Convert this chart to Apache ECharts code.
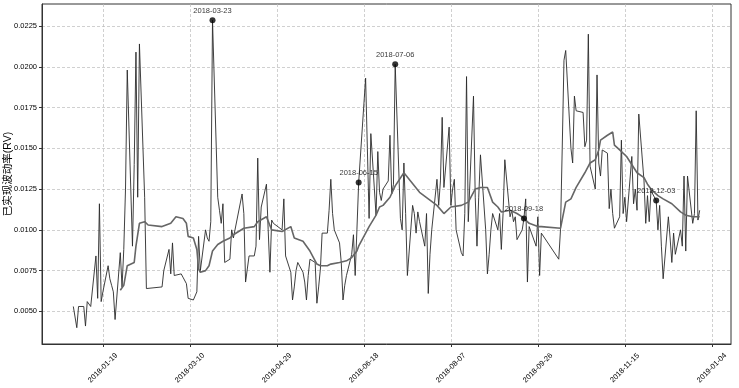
<!DOCTYPE html>
<html><head><meta charset="utf-8">
<script src="https://cdn.jsdelivr.net/npm/echarts@6/dist/echarts.min.js"></script>
<style>html,body{margin:0;padding:0;background:#fff}#c{width:739px;height:388px}</style>
</head><body><div id="c"></div>
<script>
const dates = [
'2018-01-02','2018-01-03','2018-01-04','2018-01-05','2018-01-08','2018-01-09','2018-01-10','2018-01-11','2018-01-12','2018-01-15','2018-01-16','2018-01-17','2018-01-18','2018-01-19','2018-01-22','2018-01-23','2018-01-24','2018-01-25','2018-01-26','2018-01-29','2018-01-30','2018-01-31',
'2018-02-01','2018-02-02','2018-02-05','2018-02-06','2018-02-07','2018-02-08','2018-02-09','2018-02-12','2018-02-13','2018-02-14','2018-02-22','2018-02-23','2018-02-26','2018-02-27','2018-02-28',
'2018-03-01','2018-03-02','2018-03-05','2018-03-06','2018-03-07','2018-03-08','2018-03-09','2018-03-12','2018-03-13','2018-03-14','2018-03-15','2018-03-16','2018-03-19','2018-03-20','2018-03-21','2018-03-22','2018-03-23','2018-03-26','2018-03-27','2018-03-28','2018-03-29','2018-03-30',
'2018-04-02','2018-04-03','2018-04-04','2018-04-09','2018-04-10','2018-04-11','2018-04-12','2018-04-13','2018-04-16','2018-04-17','2018-04-18','2018-04-19','2018-04-20','2018-04-23','2018-04-24','2018-04-25','2018-04-26','2018-04-27',
'2018-05-02','2018-05-03','2018-05-04','2018-05-07','2018-05-08','2018-05-09','2018-05-10','2018-05-11','2018-05-14','2018-05-15','2018-05-16','2018-05-17','2018-05-18','2018-05-21','2018-05-22','2018-05-23','2018-05-24','2018-05-25','2018-05-28','2018-05-29','2018-05-30','2018-05-31',
'2018-06-01','2018-06-04','2018-06-05','2018-06-06','2018-06-07','2018-06-08','2018-06-11','2018-06-12','2018-06-13','2018-06-14','2018-06-15','2018-06-19','2018-06-20','2018-06-21','2018-06-22','2018-06-25','2018-06-26','2018-06-27','2018-06-28','2018-06-29',
'2018-07-02','2018-07-03','2018-07-04','2018-07-05','2018-07-06','2018-07-09','2018-07-10','2018-07-11','2018-07-12','2018-07-13','2018-07-16','2018-07-17','2018-07-18','2018-07-19','2018-07-20','2018-07-23','2018-07-24','2018-07-25','2018-07-26','2018-07-27','2018-07-30','2018-07-31',
'2018-08-01','2018-08-02','2018-08-03','2018-08-06','2018-08-07','2018-08-08','2018-08-09','2018-08-10','2018-08-13','2018-08-14','2018-08-15','2018-08-16','2018-08-17','2018-08-20','2018-08-21','2018-08-22','2018-08-23','2018-08-24','2018-08-27','2018-08-28','2018-08-29','2018-08-30','2018-08-31',
'2018-09-03','2018-09-04','2018-09-05','2018-09-06','2018-09-07','2018-09-10','2018-09-11','2018-09-12','2018-09-13','2018-09-14','2018-09-17','2018-09-18','2018-09-19','2018-09-20','2018-09-21','2018-09-25','2018-09-26','2018-09-27','2018-09-28',
'2018-10-08','2018-10-09','2018-10-10','2018-10-11','2018-10-12','2018-10-15','2018-10-16','2018-10-17','2018-10-18','2018-10-19','2018-10-22','2018-10-23','2018-10-24','2018-10-25','2018-10-26','2018-10-29','2018-10-30','2018-10-31',
'2018-11-01','2018-11-02','2018-11-05','2018-11-06','2018-11-07','2018-11-08','2018-11-09','2018-11-12','2018-11-13','2018-11-14','2018-11-15','2018-11-16','2018-11-19','2018-11-20','2018-11-21','2018-11-22','2018-11-23','2018-11-26','2018-11-27','2018-11-28','2018-11-29','2018-11-30',
'2018-12-03','2018-12-04','2018-12-05','2018-12-06','2018-12-07','2018-12-10','2018-12-11','2018-12-12','2018-12-13','2018-12-14','2018-12-17','2018-12-18','2018-12-19','2018-12-20','2018-12-21','2018-12-24','2018-12-25','2018-12-26','2018-12-27','2018-12-28'
];
const rv = [
0.0053,0.0054,0.0040,0.0053,0.0053,0.0041,0.0056,0.0056,0.0053,0.0084,0.0058,0.0116,0.0056,0.0062,0.0078,0.0070,0.0066,0.0062,0.0045,0.0086,0.0065,0.0088,
0.0125,0.0198,0.0090,0.0140,0.0209,0.0120,0.0214,0.0120,0.0064,0.0064,0.0065,0.0075,0.0088,0.0073,0.0092,
0.0072,0.0072,0.0073,0.0071,0.0072,0.0067,0.0058,0.0057,0.0056,0.0062,0.0096,0.0075,0.0100,0.0095,0.0093,0.0105,0.02285,0.0120,0.0112,0.0104,0.0116,0.0080,
0.0082,0.0100,0.0095,0.0122,0.0110,0.0068,0.0076,0.0084,0.0084,0.0090,0.0144,0.0094,0.0114,0.0128,0.0100,0.0074,0.0106,0.0104,
0.0100,0.0119,0.0084,0.0074,0.0057,0.0065,0.0075,0.0080,0.0074,0.0068,0.0057,0.0072,0.0082,0.0080,0.0055,0.0065,0.0076,0.0098,0.0098,0.0112,0.0131,0.0110,
0.0100,0.0092,0.0080,0.0057,0.0066,0.0072,0.0085,0.0097,0.0072,0.0100,0.0129,0.0193,0.0150,0.0107,0.0159,0.0109,0.0148,0.0123,0.0118,0.0125,
0.0130,0.0158,0.0122,0.0128,0.02015,0.0107,0.0100,0.0141,0.0110,0.0072,0.0115,0.0110,0.0098,0.0111,0.0105,0.0090,0.0110,0.0061,0.0085,0.0100,0.0131,0.0115,
0.0130,0.0169,0.0126,0.0163,0.0115,0.0125,0.0131,0.0100,0.0086,0.0084,0.0110,0.0194,0.0105,0.0182,0.0120,0.0090,0.0120,0.0146,0.0100,0.0073,0.0085,0.0100,0.0110,
0.0100,0.0110,0.0088,0.0110,0.0143,0.0108,0.0112,0.0105,0.0108,0.0094,0.0100,0.0107,0.0119,0.0068,0.0102,0.0090,0.0108,0.0072,0.0098,
0.0082,0.0100,0.0150,0.0204,0.0210,0.0150,0.0141,0.0182,0.0173,0.0173,0.0172,0.0151,0.0155,0.0220,0.0139,0.0125,0.0195,0.0141,
0.0133,0.0149,0.0147,0.0113,0.0125,0.0110,0.0101,0.0108,0.0155,0.0110,0.0120,0.0105,0.0145,0.0116,0.0125,0.0112,0.0171,0.0130,0.0104,0.0121,0.0105,0.0124,
0.0118,0.0100,0.0115,0.0090,0.0070,0.0108,0.0095,0.0080,0.0098,0.0085,0.0100,0.0090,0.0133,0.0087,0.0133,0.0104,0.0110,0.0173,0.0106,0.0112
];
const rollDates = ['2018-01-29','2018-01-31','2018-02-02','2018-02-06','2018-02-07','2018-02-09','2018-02-12','2018-02-14','2018-02-22','2018-02-23','2018-02-27','2018-03-02','2018-03-06','2018-03-08','2018-03-09','2018-03-12','2018-03-14','2018-03-15','2018-03-16','2018-03-19','2018-03-21','2018-03-23','2018-03-26','2018-03-29','2018-04-02','2018-04-04','2018-04-10','2018-04-16','2018-04-18','2018-04-23','2018-04-24','2018-04-26','2018-05-02','2018-05-03','2018-05-07','2018-05-09','2018-05-14','2018-05-18','2018-05-22','2018-05-24','2018-05-28','2018-05-30','2018-06-04','2018-06-08','2018-06-11','2018-06-14','2018-06-15','2018-06-19','2018-06-21','2018-06-25','2018-06-27','2018-06-29','2018-07-03','2018-07-06','2018-07-11','2018-07-17','2018-07-20','2018-07-25','2018-07-30','2018-08-03','2018-08-07','2018-08-13','2018-08-17','2018-08-21','2018-08-24','2018-08-28','2018-08-31','2018-09-03','2018-09-05','2018-09-10','2018-09-11','2018-09-14','2018-09-17','2018-09-21','2018-09-26','2018-09-28','2018-10-09','2018-10-12','2018-10-15','2018-10-18','2018-10-23','2018-10-26','2018-10-29','2018-10-31','2018-11-01','2018-11-05','2018-11-08','2018-11-09','2018-11-12','2018-11-16','2018-11-22','2018-11-26','2018-11-28','2018-11-30','2018-12-04','2018-12-07','2018-12-12','2018-12-17','2018-12-20','2018-12-24','2018-12-28'];
const rollValues = [0.0063,0.0066,0.0078,0.0080,0.0090,0.0104,0.0105,0.0103,0.0102,0.0103,0.0104,0.0108,0.0107,0.0104,0.0096,0.0095,0.0088,0.0076,0.0074,0.0075,0.0078,0.0087,0.0091,0.0093,0.0095,0.0097,0.0101,0.0102,0.0105,0.0108,0.0109,0.0100,0.0099,0.0099,0.0102,0.0095,0.0093,0.0087,0.0079,0.0078,0.0078,0.0079,0.0080,0.0081,0.0083,0.0087,0.0090,0.0098,0.0102,0.0109,0.0114,0.0115,0.0120,0.0127,0.0135,0.0127,0.0123,0.0119,0.0115,0.0110,0.0114,0.0115,0.0117,0.0125,0.0126,0.0126,0.0117,0.0114,0.0111,0.0112,0.0111,0.0110,0.0108,0.0104,0.0102,0.0102,0.0101,0.0117,0.0119,0.0126,0.0135,0.0141,0.0143,0.0149,0.0155,0.0158,0.0160,0.0152,0.0149,0.0145,0.0135,0.0132,0.0128,0.0125,0.0121,0.0119,0.0116,0.0111,0.0109,0.0108,0.0108];
const markDates = ['2018-03-23','2018-06-15','2018-07-06','2018-09-18','2018-12-03'];
const markValues = [0.02285,0.0129,0.02015,0.0107,0.0118];
const xMinDate = '2017-12-15', xMaxDate = '2019-01-15';
const xTickDates = ['2018-01-19','2018-03-10','2018-04-29','2018-06-18','2018-08-07','2018-09-26','2018-11-15','2019-01-04'];
const yMin = 0.003, yMax = 0.02385;
const yTicks = [0.0050,0.0075,0.0100,0.0125,0.0150,0.0175,0.0200,0.0225];
const titleText = '已实现波动率(RV)';
const yName = '已实现波动率(RV)';

const t = s => Date.parse(s);
const fmt = v => new Date(v).toISOString().slice(0,10);
const FONT = '"Liberation Sans", Arial, "Noto Sans CJK SC", sans-serif';
const xTickVals = xTickDates.map(t);

const chart = echarts.init(document.getElementById('c'), null, {renderer:'canvas'});
chart.setOption({
  animation:false,
  backgroundColor:'#fff',
  title:{text:titleText,left:386,textAlign:'center',top:-13,padding:0,
    textStyle:{fontSize:12.6,lineHeight:13,fontWeight:'normal',color:'#000',fontFamily:FONT}},
  grid:{left:42,right:8,top:4,bottom:44,show:true,borderColor:'#333',borderWidth:1,outerBoundsMode:'none'},
  xAxis:{type:'value',min:t(xMinDate),max:t(xMaxDate),
    axisLine:{show:true,lineStyle:{color:'#333',width:1}},
    axisTick:{show:true,length:3,customValues:xTickVals,lineStyle:{color:'#333'}},
    axisLabel:{customValues:xTickVals,rotate:45,align:'center',verticalAlign:'middle',margin:24,fontSize:7.5,color:'#000',fontFamily:FONT,
      formatter:v=>fmt(v)},
    splitLine:{show:true,lineStyle:{type:[3,2],color:'#bbb',width:0.7}}},
  yAxis:{type:'value',min:yMin,max:yMax,
    name:yName,nameLocation:'middle',nameRotate:90,nameGap:29,nameMoveOverlap:false,
    nameTextStyle:{fontSize:10.5,color:'#000',fontFamily:FONT},
    axisLine:{show:true,lineStyle:{color:'#333',width:1}},
    axisTick:{show:true,length:3,customValues:yTicks,lineStyle:{color:'#333'}},
    axisLabel:{customValues:yTicks,fontSize:7.5,color:'#000',fontFamily:FONT,margin:5,formatter:v=>v.toFixed(4)},
    splitLine:{show:true,lineStyle:{type:[3,2],color:'#bbb',width:0.7}}},
  series:[
    {type:'line',data:dates.map((d,i)=>[t(d),rv[i]]),showSymbol:false,symbol:'none',lineStyle:{color:'#2a2a2a',width:0.9},z:2},
    {type:'line',data:rollDates.map((d,i)=>[t(d),rollValues[i]]),showSymbol:false,symbol:'none',lineStyle:{color:'#666',width:1.6},z:3},
    {type:'scatter',data:markDates.map((d,i)=>[t(d),markValues[i]]),symbolSize:6,itemStyle:{color:'#000'},z:4,
      label:{show:true,position:'top',distance:3,fontSize:7.5,color:'#000',fontFamily:FONT,formatter:p=>fmt(p.value[0])}}
  ]
});
</script></body></html>
